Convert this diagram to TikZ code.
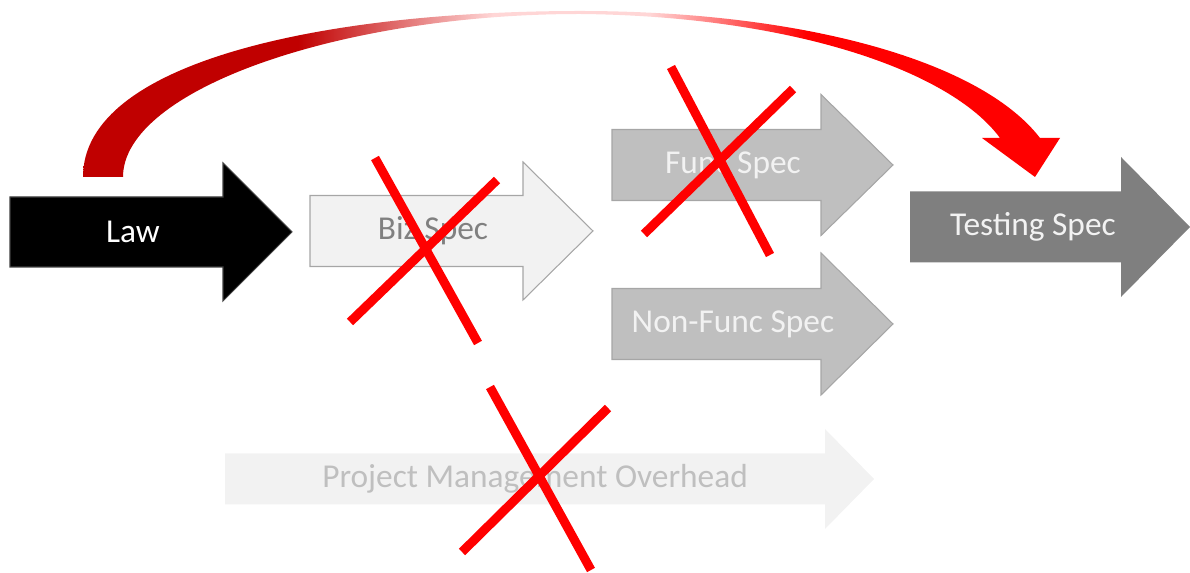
\documentclass[tikz,border=0pt]{standalone}
\usepackage{fontspec}
\setmainfont{Carlito}
\usepackage{tikz}
\usetikzlibrary{positioning}

\definecolor{rdark}{HTML}{C00000}
\definecolor{rpale}{HTML}{FFD6D6}
\definecolor{lightfill}{HTML}{F2F2F2}
\definecolor{midfill}{HTML}{BFBFBF}
\definecolor{edgegray}{HTML}{A6A6A6}
\definecolor{darkfill}{HTML}{7F7F7F}

\pgfdeclarehorizontalshading{redfade}{100bp}{color(0bp)=(rdark); color(36bp)=(rdark);
  color(46bp)=(rpale); color(54bp)=(rpale); color(62bp)=(red); color(100bp)=(red)}

% block arrow: [style]{x start}{x head}{x tip}{y middle}{half body}{half head}
\newcommand{\fatarrow}[7][]{%
  \filldraw[#1] (#2,#5-#6) -- (#3,#5-#6) -- (#3,#5-#7) -- (#4,#5)
    -- (#3,#5+#7) -- (#3,#5+#6) -- (#2,#5+#6) -- cycle;}

\begin{document}
\begin{tikzpicture}[x=0.02cm,y=-0.02cm,
        lbl/.style={font=\fontsize{19}{22}\selectfont, inner sep=0pt},
        strike/.style={draw=red, line width=0.18cm}]
  \useasboundingbox (0,0) rectangle (1190,573);

  \fatarrow[fill=black, draw=black!75, line width=0.6pt]{10}{223}{292}{232}{35}{69}
  \fatarrow[fill=lightfill, draw=edgegray, line width=0.6pt]{310}{523}{593}{231}{35.5}{69}
  \fatarrow[fill=midfill, draw=edgegray, line width=0.6pt]{612}{821}{893}{165}{35.5}{70.5}
  \fatarrow[fill=midfill, draw=edgegray, line width=0.6pt]{612}{821}{893}{324}{35.5}{71}
  \fatarrow[fill=darkfill, draw=none]{910}{1121}{1190}{227}{35.5}{70}
  \fatarrow[fill=lightfill, draw=none]{225}{825}{874}{479}{25.5}{50}

  \node[lbl, text=white]      (law)     at (133,232) {Law};
  \node[lbl, text=black!50]   (biz)     at (433,231) {Biz Spec};
  \node[lbl, text=lightfill]  (func)    at (733,165) {Func Spec};
  \node[lbl, text=lightfill]  (nonfunc) at (733,324) {Non-Func Spec};
  \node[lbl, text=lightfill]  (testing) at (1033,227) {Testing Spec};
  \node[lbl, text=midfill]    (pm)      at (535,479) {Project Management Overhead};

  % the jump from law straight to testing
  \shade[shading=redfade]
    (83,177) .. controls (83,60) and (330,11) .. (580,11)
    .. controls (800,11) and (980,60) .. (1040,138)
    -- (1060,138) -- (1035,177) -- (982,138) -- (1000,138)
    .. controls (950,70) and (790,16) .. (580,14)
    .. controls (340,14) and (123,90) .. (123,177)
    -- cycle;

  % crossed out
  \draw[strike] (375,158) -- (478,343);
  \draw[strike] (497,180) -- (350,322);
  \draw[strike] (671,67) -- (770,255);
  \draw[strike] (793,89) -- (644,234);
  \draw[strike] (490,387) -- (591,570);
  \draw[strike] (608,408) -- (462,552);
\end{tikzpicture}
\end{document}
